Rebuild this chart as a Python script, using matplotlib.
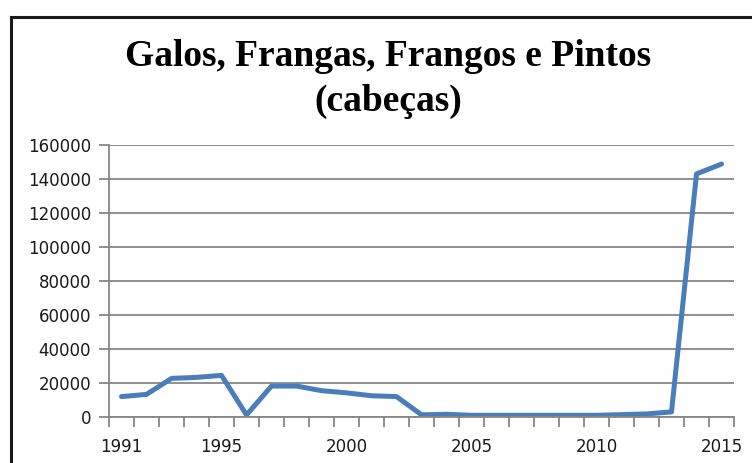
import matplotlib

matplotlib.use("Agg")
import matplotlib.pyplot as plt
from matplotlib.patches import Rectangle
import numpy as np

years = list(range(1991, 2016))
heads = [
    12000, 13300, 22700, 23300, 24500, 1200, 18200, 18200, 15500, 14200,
    12500, 12000, 1300, 1600, 1000, 1000, 1000, 1000, 1000, 1000,
    1400, 1800, 3000, 143000, 148800,
]
label_years = [1991, 1995, 2000, 2005, 2010, 2015]
y_ticks = list(range(0, 160001, 20000))

GRID = "#878787"
LINE = "#4a7ebb"

fig = plt.figure(figsize=(7.52, 4.63), dpi=100)
fig.patch.set_facecolor("white")

# outer chart frame (runs off the right / bottom edge like the source)
fig.patches.append(
    Rectangle((11 / 752, -0.05), 1.0, 1 - 17 / 463 + 0.05,
              transform=fig.transFigure, fill=False,
              edgecolor="#1a1a1a", linewidth=2.2)
)

fig.text(0.516, 1 - 57 / 463, "Galos, Frangas, Frangos e Pintos",
         ha="center", va="center", fontsize=27, fontweight="bold",
         family="Liberation Serif")
fig.text(0.516, 1 - 101 / 463, "(cabeças)",
         ha="center", va="center", fontsize=27, fontweight="bold",
         family="Liberation Serif")

ax = fig.add_axes([109 / 752, 1 - 417 / 463, (734 - 109) / 752, (417 - 145) / 463])
ax.plot(years, heads, color=LINE, linewidth=3.6, solid_joinstyle="round",
        solid_capstyle="round")

ax.set_xlim(1990.5, 2015.5)
ax.set_ylim(0, 160000)
ax.set_yticks(y_ticks)
ax.set_yticklabels([str(v) for v in y_ticks])
ax.set_xticks(label_years)
ax.set_xticklabels([str(y) for y in label_years])
ax.set_xticks(np.arange(1990.5, 2016, 1), minor=True)

ax.grid(axis="y", color=GRID, linewidth=1.3)
ax.set_axisbelow(True)
for side in ("top", "right"):
    ax.spines[side].set_visible(False)
for side in ("left", "bottom"):
    ax.spines[side].set_color(GRID)
    ax.spines[side].set_linewidth(1.3)

ax.tick_params(axis="y", length=7, width=1.3, color=GRID, pad=6,
               labelsize=12, labelcolor="#1a1a1a")
ax.tick_params(axis="x", which="major", length=0, pad=15,
               labelsize=12, labelcolor="#1a1a1a")
ax.tick_params(axis="x", which="minor", length=7, width=1.3, color=GRID)
for lbl in ax.get_xticklabels() + ax.get_yticklabels():
    lbl.set_family("DejaVu Sans")

fig.savefig("out.png", dpi=100, facecolor="white")
